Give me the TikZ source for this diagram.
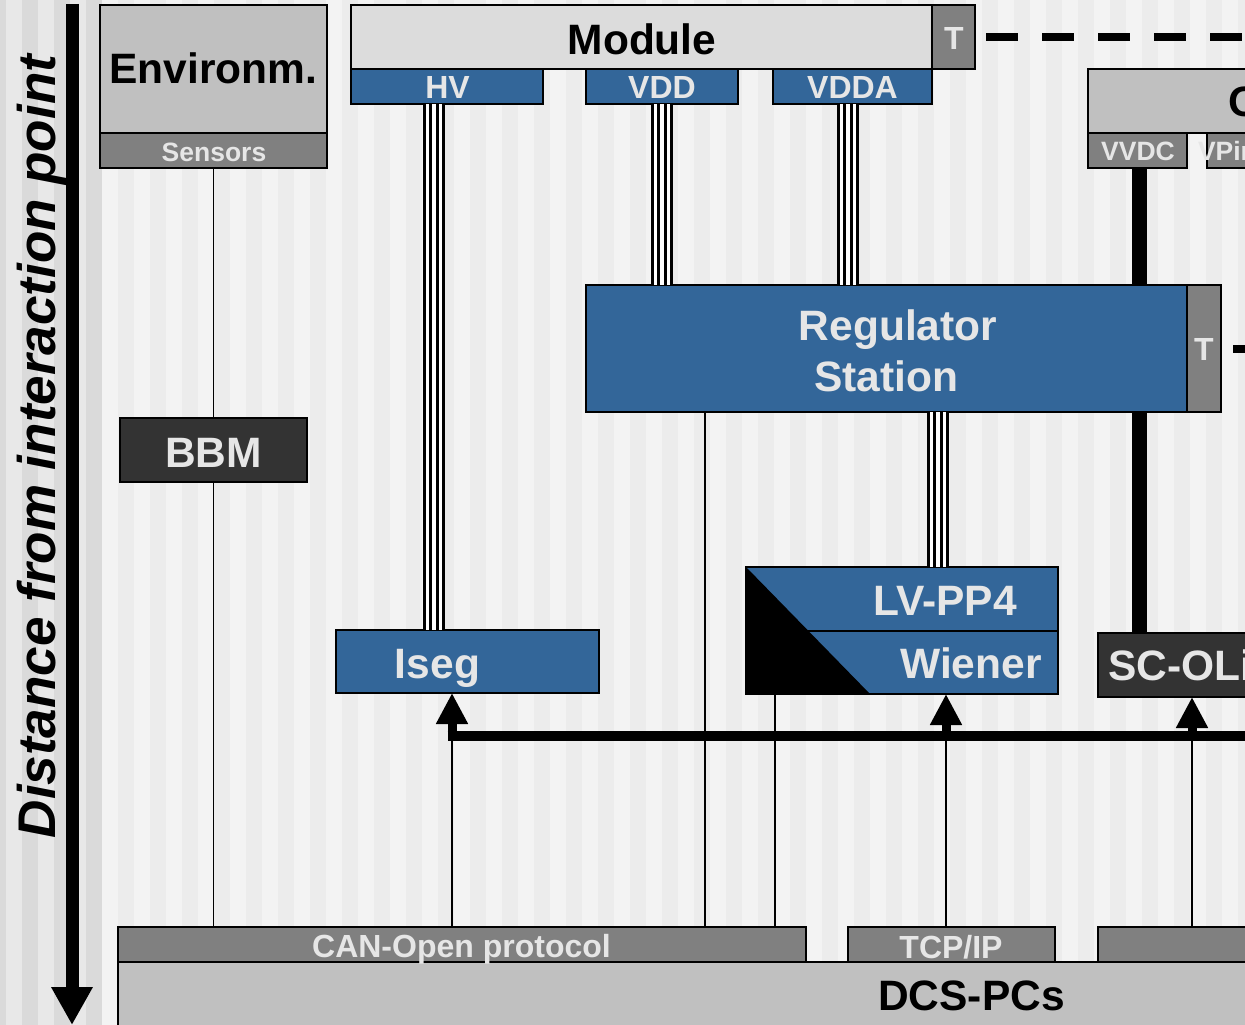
\documentclass[tikz,border=0pt]{standalone}
\usepackage{fontspec}
\setmainfont{Liberation Sans}
\usetikzlibrary{arrows.meta}

\definecolor{dcsblue}{HTML}{336699}
\definecolor{panelgray}{HTML}{C0C0C0}
\definecolor{midgray}{HTML}{808080}
\definecolor{darkpanel}{HTML}{333333}
\definecolor{modgray}{HTML}{DCDCDC}
\definecolor{lighttext}{HTML}{E6E6E6}
\definecolor{stripeA}{HTML}{F3F3F3}
\definecolor{stripeB}{HTML}{ECECEC}
\definecolor{stripeC}{HTML}{E8E8E8}
\definecolor{stripeD}{HTML}{DADADA}

\newcommand\bigfont{\fontsize{42.5}{47}\selectfont\bfseries}
\newcommand\midfont{\fontsize{32}{36}\selectfont\bfseries}
\newcommand\smallfont{\fontsize{26.5}{30}\selectfont\bfseries}
\newcommand\axisfont{\fontsize{53}{60}\selectfont\bfseries\itshape}

\begin{document}
\begin{tikzpicture}[x=1pt,y=-1pt,
  panel/.style={draw=black, line width=1.5pt, inner sep=0pt, outer sep=0pt,
                anchor=north west, rectangle},
  wh/.style 2 args={minimum width=#1pt, minimum height=#2pt},
  bluepanel/.style={panel, fill=dcsblue},
  greypanel/.style={panel, fill=panelgray},
  midpanel/.style={panel, fill=midgray},
  darkbox/.style={panel, fill=darkpanel},
  lbl/.style={anchor=base, inner sep=0pt, outer sep=0pt},
  biglight/.style={lbl, font=\bigfont, text=lighttext},
  bigdark/.style={lbl, font=\bigfont, text=black},
  midlight/.style={lbl, font=\midfont, text=lighttext},
  smalllight/.style={lbl, font=\smallfont, text=lighttext},
  signal/.style={line width=1.3pt},
  powerline/.style={line width=15pt},
  bundle/.style={line width=22.4pt, draw=black,
                 postaction={draw=white, line width=16pt},
                 postaction={draw=black, line width=9.6pt},
                 postaction={draw=white, line width=3.2pt}},
  dashline/.style={line width=8pt, dash pattern=on 32pt off 24pt},
  busline/.style={line width=10pt},
  uparrow/.style={line width=9pt, -{Triangle[width=30pt,length=31pt]}}
]
\useasboundingbox (0,0) rectangle (1245,1025);
\clip (0,0) rectangle (1245,1025);

% striped background
\fill[stripeC] (0,0) rectangle (102,1025);
\foreach \k in {0,...,3}
  \fill[stripeD] (-10+32*\k,0) rectangle (6+32*\k,1025);
\fill[stripeA] (102,0) rectangle (1245,1025);
\foreach \k in {0,...,35}
  \fill[stripeB] (118+32*\k,0) rectangle (134+32*\k,1025);

% distance axis
\coordinate (axtop) at (72,4);
\coordinate (axbot) at (72,1025);
\draw[line width=13pt, -{Triangle[width=39pt,length=38pt]}] (axtop) -- (axbot);
\node[rotate=90, lbl, font=\axisfont] (axislbl) at (55,446.5) {Distance from interaction point};

% panels
\node[greypanel, wh={227}{128}] (env)  at (100,5) {};
\node[midpanel,  wh={227}{35}]  (sens) at (100,133) {};
\node[darkbox,   wh={187}{64}]  (bbm)  at (120,418) {};

\node[panel, fill=modgray, wh={581}{64}] (module) at (351,5) {};
\node[midpanel,  wh={43}{64}]   (modT) at (932,5) {};
\node[bluepanel, wh={192}{35}]  (hv)   at (351,69) {};
\node[bluepanel, wh={152}{35}]  (vdd)  at (586,69) {};
\node[bluepanel, wh={159}{35}]  (vdda) at (773,69) {};

\node[greypanel, wh={212}{64}]  (opto) at (1088,69) {};
\node[midpanel,  wh={99}{35}]   (vvdc) at (1088,133) {};
\node[midpanel,  wh={93}{35}]   (vpin) at (1207,133) {};

% coordinates of the vertical runs
\coordinate (vx)  at (1139,0);
\coordinate (hvx) at (434,0);
\coordinate (vdax) at (848,0);
\coordinate (lvx) at (938,0);
\coordinate (rx)  at (705,0);
\coordinate (wx)  at (775,0);
\coordinate (edge) at (1300,0);

\node[bluepanel, wh={263}{63}]  (iseg) at (336,630) {};
\node[bluepanel, wh={312}{64}]  (lv)   at (746,567) {};
\node[bluepanel, wh={312}{63}]  (wien) at (746,631) {};
\node[darkbox,   wh={202}{64}]  (sco)  at (1098,633) {};

\node[midpanel,  wh={688}{35}]  (can)  at (118,927) {};
\node[midpanel,  wh={207}{35}]  (tcp)  at (848,927) {};
\node[midpanel,  wh={202}{35}]  (third) at (1098,927) {};
\node[greypanel, wh={1182}{70}] (dcs)  at (118,962) {};

% thick supply line from VVDC to SC-OLink (passes behind the regulator)
\draw[powerline] (vx |- vvdc.south) -- (vx |- sco.north);

\node[bluepanel, wh={601}{127}] (reg)  at (586,285) {};
\node[midpanel,  wh={34}{127}]  (regT) at (1187,285) {};

% black corner of the LV-PP4 / Wiener block
\fill[black] (lv.north west) -- (wien.south west) -- ([xshift=124pt]wien.south west) -- cycle;

% cable bundles
\draw[bundle] (hvx |- hv.south) -- (hvx |- iseg.north);
\draw[bundle] (vdd.south) -- (vdd.south |- reg.north);
\draw[bundle] (vdax |- vdda.south) -- (vdax |- reg.north);
\draw[bundle] (lvx |- reg.south) -- (lvx |- lv.north);

% signal lines
\draw[signal] (sens.south) -- (bbm.north);
\draw[signal] (bbm.south) -- (bbm.south |- can.north);
\draw[signal] (rx |- reg.south) -- (rx |- can.north);
\draw[signal] (wx |- wien.south) -- (wx |- can.north);

% temperature interlock links
\draw[dashline, shorten <=11pt] (modT.east) -- (modT.east -| edge);
\draw[dashline, shorten <=12pt] (regT.east) -- (regT.east -| edge);

% control bus with arrows
\coordinate (busL) at (447.5,736);
\coordinate (busR) at (1300,736);
\coordinate (a1) at (452,736);
\coordinate (a2) at (946,736);
\coordinate (a3) at (1192,736);
\draw[busline] (busL) -- (busR);
\draw[signal] (a1 |- can.north) -- (a1);
\draw[signal] (a2 |- tcp.north) -- (a2);
\draw[signal] (a3 |- third.north) -- (a3);
\draw[uparrow] (a1) -- (a1 |- iseg.south);
\draw[uparrow] (a2) -- (a2 |- wien.south);
\draw[uparrow] (a3) -- (a3 |- sco.south);

% labels
\node[bigdark]    (envT)   at (213.5,83)  {Environm.};
\node[smalllight] (sensT)  at (214,161)   {Sensors};
\node[biglight]   (bbmT)   at (213.5,467) {BBM};
\node[bigdark]    (modL)   at (642,55)    {Module};
\node[midlight]   (modTT)  at (954,50)    {T};
\node[midlight]   (hvT)    at (447.5,99)  {HV};
\node[midlight]   (vddT)   at (662,99)    {VDD};
\node[midlight]   (vddaT)  at (852.5,99)  {VDDA};
\node[bigdark, anchor=base west] (optoT) at (1228,117) {Opto-Board};
\node[smalllight] (vvdcT)  at (1138,160)  {VVDC};
\node[smalllight, anchor=base west] (vpinT) at (1198,160) {VPin};
\node[biglight]   (regL1)  at (898,340)   {Regulator};
\node[biglight]   (regL2)  at (886,391)   {Station};
\node[midlight]   (regTT)  at (1204,360)  {T};
\node[biglight]   (lvT)    at (945,615)   {LV-PP4};
\node[biglight]   (wienT)  at (971,678)   {Wiener};
\node[biglight]   (isegT)  at (437.5,678) {Iseg};
\node[biglight, anchor=base west] (scoT) at (1108,680) {SC-OLink};
\node[midlight]   (canT)   at (461.5,957) {CAN-Open protocol};
\node[midlight]   (tcpT)   at (951,958)   {TCP/IP};
\node[bigdark]    (dcsT)   at (971.5,1010) {DCS-PCs};
\end{tikzpicture}
\end{document}
